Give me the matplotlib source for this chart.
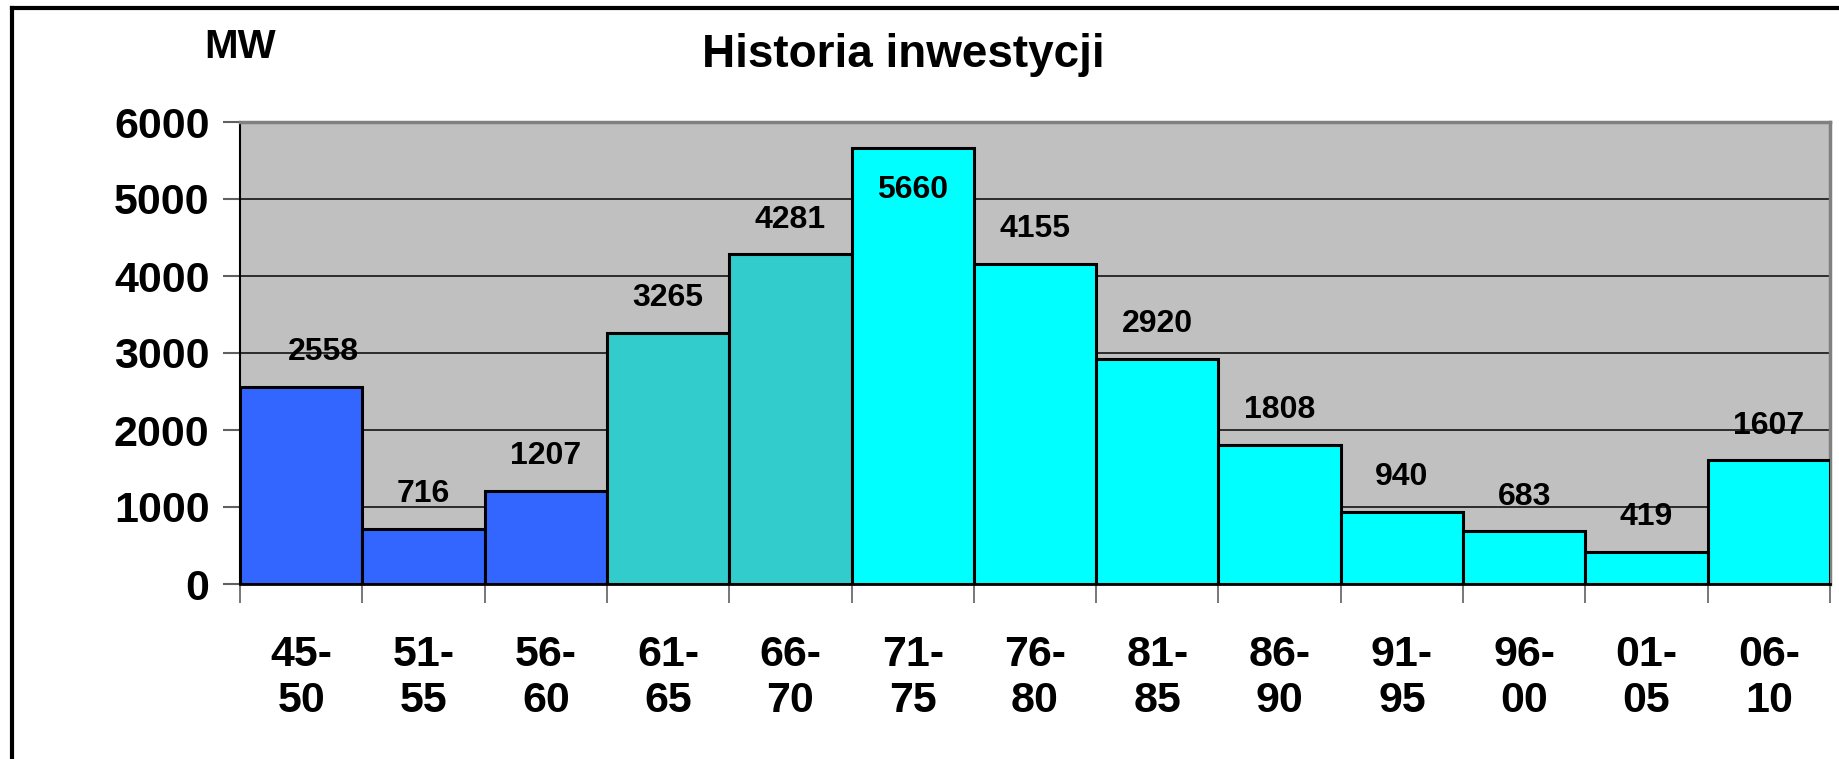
import matplotlib
matplotlib.use("Agg")
import matplotlib.pyplot as plt
from matplotlib.lines import Line2D

plt.rcParams['font.family'] = ['Liberation Sans', 'DejaVu Sans']

categories = ["45-\n50", "51-\n55", "56-\n60", "61-\n65", "66-\n70", "71-\n75", "76-\n80",
              "81-\n85", "86-\n90", "91-\n95", "96-\n00", "01-\n05", "06-\n10"]
values = [2558, 716, 1207, 3265, 4281, 5660, 4155, 2920, 1808, 940, 683, 419, 1607]
colors = ["#3366FF"] * 3 + ["#33CCCC"] * 2 + ["#00FFFF"] * 8
yticks = [0, 1000, 2000, 3000, 4000, 5000, 6000]

W, H = 1839, 759
fig = plt.figure(figsize=(W / 100, H / 100), dpi=100)
fig.patch.set_facecolor("white")

ax = fig.add_axes([240 / W, 1 - 584 / H, 1590 / W, 462 / H])
ax.set_facecolor("#C0C0C0")
x = list(range(len(values)))
ax.bar(x, values, width=1.0, color=colors, edgecolor="black", linewidth=2.2, zorder=3)
ax.set_xlim(-0.5, len(values) - 0.5)
ax.set_ylim(0, 6000)
ax.set_yticks(yticks)
ax.set_yticklabels([str(t) for t in yticks], fontsize=31, fontweight="bold")
ax.yaxis.grid(True, color="#202020", linewidth=1.3, zorder=1)
ax.set_axisbelow(True)

# x: ticks at boundaries, labels at centers
ax.set_xticks([i - 0.5 for i in range(len(values) + 1)])
ax.set_xticklabels([])
ax.set_xticks(x, minor=True)
ax.set_xticklabels(categories, minor=True, fontsize=31, fontweight="bold", linespacing=1.17)
ax.tick_params(axis="x", which="minor", length=0, pad=37)
ax.tick_params(axis="x", which="major", length=14, width=1.2, color="#606060")
ax.tick_params(axis="y", length=12, width=1.5, color="#606060", pad=10)
for s in ax.spines.values():
    s.set_color("#808080")
    s.set_linewidth(2.5)
ax.spines["left"].set_color("black")
ax.spines["left"].set_linewidth(1.5)
ax.spines["bottom"].set_color("black")
ax.spines["bottom"].set_linewidth(2)

for xi, v in zip(x, values):
    dx = 16 if xi == 0 else 0
    dy = -30 if v > 5000 else 25
    ax.annotate(str(v), (xi, v), xytext=(dx, dy), textcoords="offset points",
                ha="center", va="center", fontsize=23, fontweight="bold", zorder=5)

fig.text(903 / W, 1 - 55 / H, "Historia inwestycji", ha="center", va="center",
         fontsize=33, fontweight="bold")
fig.text(240 / W, 1 - 47 / H, "MW", ha="center", va="center",
         fontsize=29, fontweight="bold")

# outer frame
fig.add_artist(Line2D([12 / W, 12 / W], [0, 1 - 8 / H], transform=fig.transFigure,
                      color="black", linewidth=3))
fig.add_artist(Line2D([12 / W, 1], [1 - 8 / H, 1 - 8 / H], transform=fig.transFigure,
                      color="black", linewidth=3))

fig.savefig("out.png", dpi=100, facecolor="white")
